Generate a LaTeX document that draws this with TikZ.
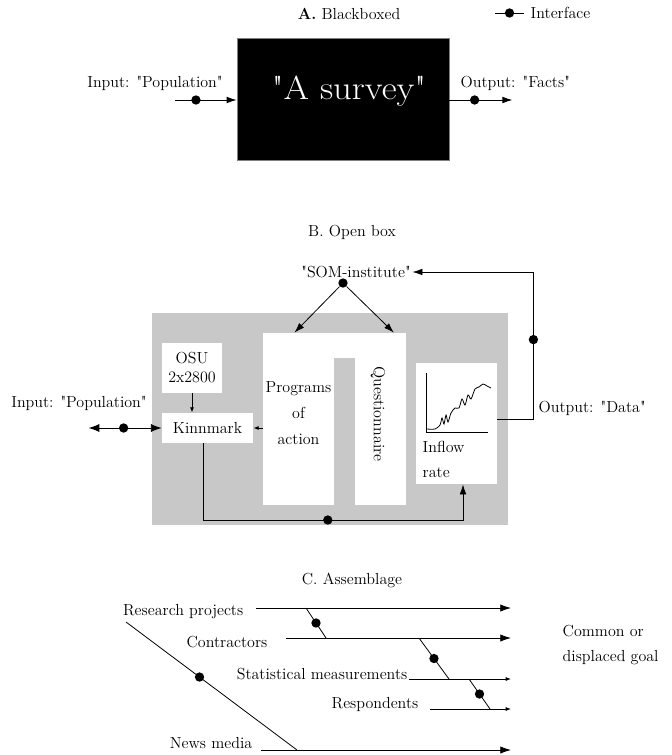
\documentclass[tikz,border=0pt]{standalone}
\usetikzlibrary{arrows.meta,positioning}
\definecolor{boxgray}{RGB}{200,200,200}
\newcommand{\qt}[1]{\textquotedbl#1\textquotedbl}
\tikzset{every picture/.style={line width=0.6pt}}
\tikzset{
  txt/.style={font=\fontsize{12}{14}\selectfont, inner sep=1pt},
  ttl/.style={txt},
  dot/.style={circle, fill=black, inner sep=0pt, minimum size=7pt},
  wbox/.style={fill=white, inner sep=0pt},
  arr/.style={-{Latex[length=7.5pt,width=5pt]}},
  bigarr/.style={-{Latex[length=8pt,width=5.5pt]}},
  smallarr/.style={-{Latex[length=4pt,width=3pt]}},
}

\begin{document}
\begin{tikzpicture}[x=0.75pt,y=0.75pt,yscale=-1,xscale=1]
\path[use as bounding box] (0,0) rectangle (671,755);

%A. Blackboxed
\node[ttl] (titleA) at (349,14) {\textbf{A.} Blackboxed};
\coordinate (lgA) at (495,13);
\coordinate (lgB) at (524,13);
\draw (lgA) -- node[dot]{} (lgB);
\node[txt, anchor=west] (legend) at (529,13) {Interface};

\node[fill=black, draw=gray, inner sep=0pt, minimum width=159pt, minimum height=91.5pt] (survey) at (343,99) {};
\node[text=white, font=\fontsize{25}{29}\selectfont, anchor=base] (surveytxt) at (349,100) {\scalebox{1.1}[1]{\qt{A survey}}};

\node[txt] (inA) at (155,83) {Input: \qt{Population}};
\coordinate (inAs) at (175,100);
\draw[arr] (inAs) -- node[dot, pos=0.34]{} (inAs -| survey.west);
\node[txt, anchor=west] (outA) at (459,83) {Output: \qt{Facts}};
\draw[arr] (survey.east |- inAs) -- node[dot, pos=0.4]{} ++(63,0);

%B. Open box
\node[ttl] (titleB) at (352,232) {B. Open box};
\node[fill=boxgray, inner sep=0pt, minimum width=267pt, minimum height=159pt] (openbox) at (330,419) {};
\fill[white] (334,333) rectangle (355,358);
\node[wbox, minimum width=45pt, minimum height=37.5pt, align=center, font=\fontsize{12}{14.25}\selectfont] (osu) at (192,368) {OSU\\2x2800};
\node[wbox, minimum width=68.25pt, minimum height=22.5pt, font=\fontsize{12}{14}\selectfont] (kinn) at (207.5,428) {Kinnmark};
\node[wbox, minimum width=53.25pt, minimum height=129pt] (prog) at (298.5,419) {};
\node[txt, align=center, font=\fontsize{12}{19.5}\selectfont] (progtxt) at (298.5,413) {Programs\\of\\action};
\node[wbox, minimum width=38.25pt, minimum height=129pt] (quest) at (380.5,419) {};
\node[txt, rotate=-90] (questtxt) at (378,414) {Questionnaire};
\node[wbox, minimum width=60.75pt, minimum height=90.75pt] (inflow) at (456.5,423.5) {};
\node[txt, align=left, anchor=west, font=\fontsize{12}{18.75}\selectfont] (inflowtxt) at (421,459.5) {Inflow\\rate};
% inflow graph
\draw (426,373) -- (426,432) -- (488,432);
\draw plot[smooth] coordinates {(427,429) (435,429) (440,425) (442,418) (444,424) (446,415) (448,422) (451,413) (455,408) (459,408) (462,399) (465,405) (468,395) (471,399) (475,389) (479,387) (483,384) (487,386) (491,388)};

\node[txt] (som) at (356,272) {\qt{SOM-institute}};
\node[dot] (somdot) at (343,283) {};
\draw[arr] (somdot) -- ([xshift=-3pt]prog.north);
\draw[arr] (somdot) -- ([xshift=10pt]quest.north);
\draw[arr] ([yshift=-3.4pt]inflow.east) -- ++(36,0) |- node[dot, pos=0.27]{} (som.east);
\node[txt, anchor=west] (outB) at (537,408) {Output: \qt{Data}};

\node[txt] (inB) at (79,403) {Input: \qt{Population}};
\draw[{Latex[length=8pt,width=6pt]}-{Latex[length=8pt,width=6pt]}] (kinn.west) -- node[dot, pos=0.52]{} ++(-73,0);
\draw[smallarr] (osu.south) -- (osu.south |- kinn.north);
\draw[smallarr] (prog.west |- kinn) -- (kinn.east);
\coordinate (botR) at (463,520);
\draw[arr] ([xshift=-3.4pt]kinn.south) |- node[dot, pos=0.74]{} (botR) -- (botR |- inflow.south);

%C. Assemblage
\node[ttl] (titleC) at (352,580) {C. Assemblage};
\coordinate (endx) at (511,0);
\node[txt, anchor=east] (research) at (245,612) {Research projects};
\node[txt, anchor=east] (contract) at (269,642) {Contractors};
\node[txt, anchor=east] (statm) at (409,674) {Statistical measurements};
\node[txt, anchor=east] (respond) at (420,704) {Respondents};
\node[txt, anchor=east] (news) at (254,743) {News media};
\node[txt, anchor=west, align=left, font=\fontsize{12}{18.75}\selectfont] (goal) at (561,645) {Common or\\displaced goal};

\draw[bigarr] (research.east) ++(11,-4) coordinate (rpS) -- coordinate[pos=0.196] (d1a) (rpS -| endx);
\draw[bigarr] (contract.east) ++(17,-4) coordinate (ctS) -- coordinate[pos=0.178] (d1b) coordinate[pos=0.591] (d2a) (ctS -| endx);
\draw[smallarr] (statm.east) ++(0,5) coordinate (smS) -- coordinate[pos=0.392] (d2b) coordinate[pos=0.588] (d3a) (smS -| endx);
\draw[smallarr] (respond.east) ++(10,5) coordinate (rsS) -- coordinate[pos=0.741] (d3b) (rsS -| endx);
\draw[bigarr] (news.east) ++(7,7) coordinate (nwS) -- coordinate[pos=0.144] (nwB) (nwS -| endx);
\draw (d1a) -- node[dot]{} (d1b);
\draw (d2a) -- node[dot]{} (d2b);
\draw (d3a) -- node[dot]{} (d3b);
\coordinate (nwA) at (126,622);
\draw (nwA) -- node[dot, pos=0.43]{} (nwB);

\end{tikzpicture}
\end{document}
